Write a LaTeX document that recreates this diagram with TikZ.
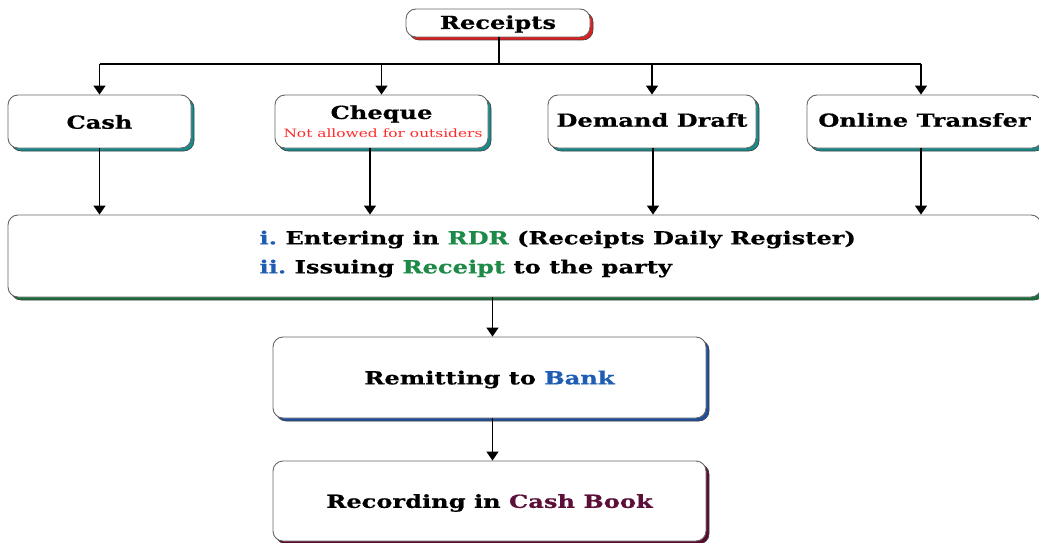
\documentclass[tikz,border=0pt]{standalone}
\usepackage{fontspec}
\setmainfont{DejaVu Serif}[FakeStretch=1.34, BoldFeatures={FakeBold=0.5}]
\usetikzlibrary{arrows.meta,shadows,calc}
\definecolor{shred}{HTML}{E01E1E}
\definecolor{shteal}{HTML}{178A8C}
\definecolor{shgreen}{HTML}{17703A}
\definecolor{shblue}{HTML}{1F4E9E}
\definecolor{shmaroon}{HTML}{5A0A2E}
\definecolor{txblue}{HTML}{1F5CB4}
\definecolor{txgreen}{HTML}{1E8A48}
\definecolor{txmaroon}{HTML}{5C0F38}
\definecolor{txred}{HTML}{FF2A2A}
\newcommand{\lowerby}[2]{\raisebox{-#1}[\height][\depth]{#2}}
\tikzset{
  box/.style={draw=black!60, line width=0.9pt, fill=white, rounded corners=10pt,
    inner sep=0pt, font=\bfseries\fontsize{18}{21}\selectfont, align=center},
  sh/.style={general shadow={fill=#1, draw=black!75, line width=0.6pt, shadow xshift=3pt, shadow yshift=-3pt}},
  conn/.style={line width=1.4pt, draw=black},
  arr/.style={conn, -{Triangle[width=12pt,length=9pt]}},
}
\frenchspacing
\begin{document}
\begin{tikzpicture}[x=1pt,y=-1pt]
\useasboundingbox (0,0) rectangle (1039,543);
\node[box, sh=shred, minimum width=184pt, minimum height=28pt] (rec) at (498,23) {\lowerby{1pt}{Receipts}};
\node[box, sh=shteal, minimum width=183pt, minimum height=53pt] (cash) at (99.5,121.5) {\lowerby{0.5pt}{Cash}};
\node[box, sh=shteal, minimum width=213pt, minimum height=53pt] (chq) at (381.5,121.5) {};
\node[font=\bfseries\fontsize{18}{21}\selectfont] (chqt) at (381.5,114) {Cheque};
\node[font=\fontsize{11.5}{13}\selectfont, text=txred] (chqn) at (383,133.5) {Not allowed for outsiders};
\node[box, sh=shteal, minimum width=208pt, minimum height=53pt] (dd) at (652,121.5) {\lowerby{-1.5pt}{Demand Draft}};
\node[box, sh=shteal, minimum width=235pt, minimum height=53pt] (ot) at (924.5,121.5) {\lowerby{-1.5pt}{Online Transfer}};
\node[box, sh=shgreen, minimum width=1033pt, minimum height=82pt] (big) at (524.5,256) {};
\node[font=\bfseries\fontsize{18}{29}\selectfont, align=left, anchor=west] (bigt) at (256,254)
  {\textcolor{txblue}{i.} Entering in \textcolor{txgreen}{RDR} (Receipts Daily Register)\\
   \textcolor{txblue}{ii.} Issuing \textcolor{txgreen}{Receipt} to the party};
\node[box, sh=shblue, minimum width=433pt, minimum height=81pt] (rem) at (489.5,377.5) {\lowerby{2pt}{Remitting to \textcolor{txblue}{Bank}}};
\node[box, sh=shmaroon, minimum width=433pt, minimum height=80pt] (rcd) at (489.5,501) {\lowerby{2pt}{Recording in \textcolor{txmaroon}{Cash Book}}};
% top tree
\coordinate (bus) at (499,64);
\draw[conn] (rec.south -| bus) -- (bus);
\draw[conn] (cash.north |- bus) -- ([xshift=-3.5pt]ot.north |- bus);
\draw[arr] (cash.north |- bus) -- (cash.north);
\draw[arr] (chq.north |- bus) -- (chq.north);
\draw[arr] (dd.north |- bus) -- (dd.north);
\draw[arr] ([xshift=-3.5pt]ot.north |- bus) -- ([xshift=-3.5pt]ot.north);
% down to big box
\draw[arr] (cash.south) -- (cash.south |- big.north);
\draw[arr] ([xshift=-11.5pt]chq.south) -- ([xshift=-11.5pt]chq.south |- big.north);
\draw[arr] ([xshift=1pt]dd.south) -- ([xshift=1pt]dd.south |- big.north);
\draw[arr] ([xshift=-3.5pt]ot.south) -- ([xshift=-3.5pt]ot.south |- big.north);
% lower chain
\draw[arr] ([xshift=3pt]rem.north |- big.south) -- ([xshift=3pt]rem.north);
\draw[arr] ([xshift=3pt]rem.south) -- ([xshift=3pt]rcd.north);
\end{tikzpicture}
\end{document}
